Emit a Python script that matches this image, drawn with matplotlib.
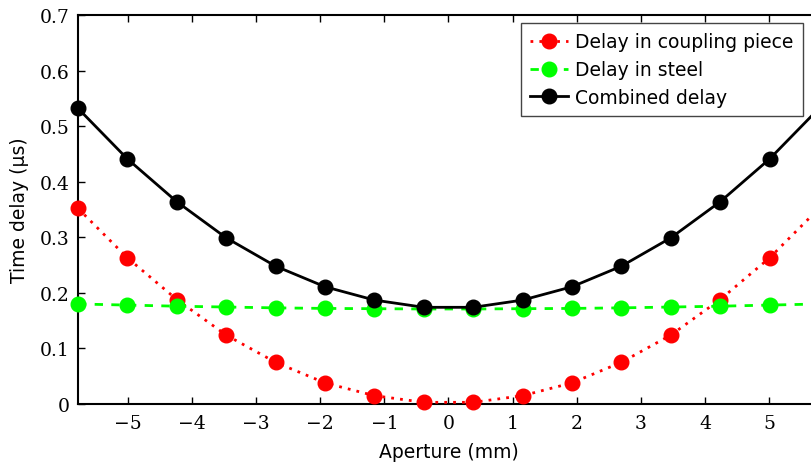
import numpy as np
import matplotlib
matplotlib.use("Agg")
import matplotlib.pyplot as plt

# element positions across the aperture (mm)
aperture = [-5.775, -5.005, -4.235, -3.465, -2.695, -1.925, -1.155, -0.385,
            0.385, 1.155, 1.925, 2.695, 3.465, 4.235, 5.005, 5.775]

# delays (us)
delay_coupling = [0.352, 0.263, 0.188, 0.124, 0.075, 0.038, 0.015, 0.003,
                  0.003, 0.015, 0.038, 0.075, 0.124, 0.188, 0.263, 0.352]
delay_steel = [0.180, 0.178, 0.176, 0.1745, 0.173, 0.172, 0.1715, 0.171,
               0.171, 0.1715, 0.172, 0.173, 0.1745, 0.176, 0.178, 0.180]
delay_combined = [0.532, 0.441, 0.364, 0.299, 0.248, 0.211, 0.187, 0.174,
                  0.174, 0.187, 0.211, 0.248, 0.299, 0.364, 0.441, 0.532]

xticks = [-5, -4, -3, -2, -1, 0, 1, 2, 3, 4, 5]
yticks = [0, 0.1, 0.2, 0.3, 0.4, 0.5, 0.6, 0.7]

fig = plt.figure(figsize=(8.12, 4.64), dpi=100)
ax = fig.add_axes([78 / 812, 1 - 405 / 464, 741 / 812, 389 / 464])

ax.plot(aperture, delay_coupling, color='red', linestyle=(0, (1, 2.2)), linewidth=2,
        marker='o', markersize=10.5, label='Delay in coupling piece', clip_on=False, zorder=3)
ax.plot(aperture, delay_steel, color='#00ff00', linestyle=(0, (3, 3)), linewidth=2,
        marker='o', markersize=10.5, label='Delay in steel', clip_on=False, zorder=3)
ax.plot(aperture, delay_combined, color='black', linestyle='-', linewidth=2,
        marker='o', markersize=10.5, label='Combined delay', clip_on=False, zorder=4)

ax.set_xlim(-5.775, 5.775)
ax.set_ylim(0, 0.7)
ax.set_xticks(xticks)
ax.set_yticks(yticks)
ax.set_yticklabels(['0' if v == 0 else f'{v:.1f}' for v in yticks])
ax.tick_params(direction='in', top=True, right=True, length=5, width=1)
for lab in ax.get_xticklabels() + ax.get_yticklabels():
    lab.set_fontfamily('DejaVu Serif')
    lab.set_fontsize(13.5)
ax.tick_params(axis='x', pad=7)
ax.tick_params(axis='y', pad=6)
for s in ax.spines.values():
    s.set_linewidth(1.5)

ax.set_xlabel('Aperture (mm)', fontsize=13.5, fontfamily='DejaVu Sans', labelpad=7.5)
ax.set_ylabel('Time delay (\u00b5s)', fontsize=13.5, fontfamily='DejaVu Sans', labelpad=8)

leg = ax.legend(loc='upper right', bbox_to_anchor=((803 - 78) / 741, 1 - 8 / 389),
                fontsize=13.5, fancybox=False, framealpha=1, edgecolor='#444444',
                handlelength=2.0, borderpad=0.5, labelspacing=0.47, handletextpad=0.4,
                borderaxespad=0)
leg.get_frame().set_linewidth(1)

fig.savefig('out.png', dpi=100)
